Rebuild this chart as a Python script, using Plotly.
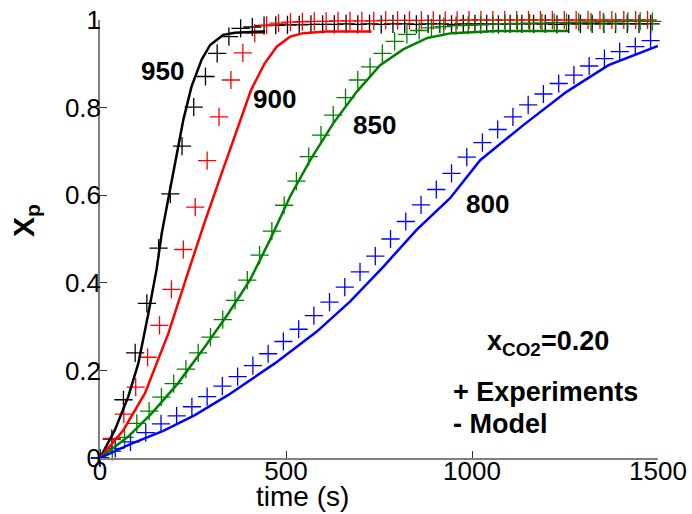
import plotly.graph_objects as go

# ---------------- data ----------------
# Experiments (markers)
t_exp_950 = [0, 31.5, 63, 94.5, 126, 157.5, 189, 220.5, 252, 283.5, 315, 346.5, 378, 409.5, 441,
             472.5, 504, 535.5, 567, 598.5, 630, 661.5, 693, 724.5, 756, 787.5, 819, 850.5, 882,
             913.5, 945, 976.5, 1008, 1039.5, 1071, 1102.5, 1134, 1165.5, 1197, 1228.5, 1260,
             1291.5, 1323, 1354.5, 1386, 1417.5, 1449, 1480.5]
x_exp_950 = [0, 0.043, 0.133, 0.240, 0.353, 0.479, 0.603, 0.712, 0.801, 0.871, 0.924, 0.962, 0.981,
             0.984, 0.987, 0.988, 0.989, 0.989, 0.990, 0.990, 0.990, 0.991, 0.990, 0.991, 0.990,
             0.991, 0.991, 0.990, 0.991, 0.991, 0.990, 0.991, 0.991, 0.991, 0.990, 0.991, 0.991,
             0.991, 0.991, 0.990, 0.991, 0.991, 0.991, 0.991, 0.991, 0.991, 0.991, 0.991]

t_exp_900 = [0, 32, 64, 96, 128, 160, 192, 224, 256, 288, 320, 352, 384, 416, 448, 480, 512, 544,
             576, 608, 640, 672, 704, 736, 768, 800, 832, 864, 896, 928, 960, 992, 1024, 1056,
             1088, 1120, 1152, 1184, 1216, 1248, 1280, 1312, 1344, 1376, 1408, 1440, 1472]
x_exp_900 = [0, 0.045, 0.100, 0.162, 0.230, 0.303, 0.385, 0.476, 0.573, 0.679, 0.779, 0.863, 0.925,
             0.970, 0.988, 0.993, 0.995, 0.996, 0.997, 0.997, 0.998, 0.998, 0.998, 0.998, 0.999,
             0.999, 0.999, 0.999, 0.999, 0.999, 0.999, 1.000, 1.000, 1.000, 1.000, 1.000, 1.000,
             1.000, 1.000, 1.000, 1.000, 1.000, 1.000, 1.000, 1.000, 1.000, 1.000]

t_exp_850 = [0, 33, 66, 99, 132, 165, 198, 231, 264, 297, 330, 363, 396, 429, 462, 495, 528, 561,
             594, 627, 660, 693, 726, 759, 792, 825, 858, 891, 924, 957, 990, 1023, 1056, 1089,
             1122, 1155, 1188, 1221, 1254, 1287, 1320, 1353, 1386, 1419, 1452, 1485]
x_exp_850 = [0, 0.015, 0.047, 0.079, 0.107, 0.139, 0.170, 0.203, 0.240, 0.276, 0.316, 0.360, 0.406,
             0.463, 0.518, 0.577, 0.632, 0.688, 0.737, 0.783, 0.823, 0.863, 0.893, 0.924, 0.951,
             0.967, 0.976, 0.982, 0.985, 0.987, 0.988, 0.989, 0.990, 0.991, 0.992, 0.993, 0.993,
             0.994, 0.994, 0.995, 0.995, 0.996, 0.996, 0.997, 0.997, 0.997]

t_exp_800 = [0, 41, 82, 123, 164, 206, 247, 288, 329, 370, 411, 452, 493, 534, 575, 617, 658, 699,
             740, 781, 822, 863, 904, 945, 986, 1028, 1069, 1110, 1151, 1192, 1233, 1274, 1315,
             1356, 1397, 1439, 1480]
x_exp_800 = [0, 0.022, 0.037, 0.058, 0.078, 0.096, 0.117, 0.140, 0.164, 0.186, 0.211, 0.238, 0.266,
             0.294, 0.325, 0.356, 0.390, 0.425, 0.461, 0.500, 0.540, 0.578, 0.613, 0.650, 0.687,
             0.720, 0.750, 0.779, 0.806, 0.831, 0.855, 0.874, 0.895, 0.912, 0.928, 0.939, 0.953]

# Model (lines)
t_mod_950 = [0, 40, 76, 103, 130, 152, 166, 197, 224, 246, 273, 296, 331, 363, 444]
x_mod_950 = [0, 0.064, 0.140, 0.216, 0.330, 0.430, 0.513, 0.654, 0.772, 0.848, 0.909, 0.943, 0.966,
             0.971, 0.974]

t_mod_900 = [0, 63, 121, 184, 233, 280, 327, 372, 406, 442, 475, 511, 547, 609, 730]
x_mod_900 = [0, 0.064, 0.148, 0.285, 0.414, 0.535, 0.650, 0.757, 0.840, 0.900, 0.939, 0.962, 0.970,
             0.974, 0.974]

t_mod_850 = [0, 76, 139, 210, 282, 345, 403, 457, 511, 565, 627, 690, 753, 815, 880, 945, 1066, 1258]
x_mod_850 = [0, 0.049, 0.102, 0.171, 0.254, 0.330, 0.406, 0.498, 0.597, 0.680, 0.764, 0.836, 0.897,
             0.933, 0.959, 0.970, 0.975, 0.975]

t_mod_800 = [0, 80, 170, 255, 345, 470, 582, 672, 762, 851, 941, 1022, 1138, 1254, 1367, 1434, 1500]
x_mod_800 = [0, 0.031, 0.062, 0.098, 0.144, 0.216, 0.288, 0.357, 0.437, 0.521, 0.593, 0.680, 0.760,
             0.836, 0.897, 0.920, 0.941]

temps = ["950", "900", "850", "800"]
colors = ["#000000", "#ff0000", "#008000", "#0000ff"]
label_t = [168, 468, 737, 1042]
label_x = [0.884, 0.820, 0.760, 0.580]

x_ticks = [0, 500, 1000, 1500]
y_ticks = [0, 0.2, 0.4, 0.6, 0.8, 1.0]
y_ticklabels = ["0", "0.2", "0.4", "0.6", "0.8", "1"]

exp_sets = [(t_exp_950, x_exp_950), (t_exp_900, x_exp_900), (t_exp_850, x_exp_850), (t_exp_800, x_exp_800)]
mod_sets = [(t_mod_950, x_mod_950), (t_mod_900, x_mod_900), (t_mod_850, x_mod_850), (t_mod_800, x_mod_800)]

FONT = "Liberation Sans, Arial, sans-serif"
W, H = 692, 514
L, R, T, B = 100, 34, 20, 56
PW, PH = W - L - R, H - T - B

fig = go.Figure()
for (t, xv), c in zip(exp_sets, colors):
    fig.add_trace(go.Scatter(x=t, y=xv, mode="markers", cliponaxis=False, showlegend=False,
                             marker=dict(symbol="cross-thin", size=13, color=c,
                                         line=dict(color=c, width=1.3))))
for (t, xv), c in zip(mod_sets, colors):
    fig.add_trace(go.Scatter(x=t, y=xv, mode="lines", cliponaxis=False, showlegend=False,
                             line=dict(color=c, width=2.5)))

for name, tx, ty in zip(temps, label_t, label_x):
    fig.add_annotation(x=tx, y=ty, xref="x", yref="y", text="<b>%s</b>" % name, showarrow=False,
                       xanchor="center", yanchor="middle",
                       font=dict(family=FONT, size=26, color="black"))

fig.add_annotation(x=1204, y=0.262, xref="x", yref="y", showarrow=False, xanchor="center", yanchor="middle",
                   text="<b>x<sub>CO2</sub>=0.20</b>", font=dict(family=FONT, size=27, color="black"))
fig.add_annotation(x=943, y=0.151, xref="x", yref="y", showarrow=False, xanchor="left", yanchor="middle",
                   text="<b>+ Experiments</b>", font=dict(family=FONT, size=27, color="black"))
fig.add_annotation(x=943, y=0.078, xref="x", yref="y", showarrow=False, xanchor="left", yanchor="middle",
                   text="<b>- Model</b>", font=dict(family=FONT, size=27, color="black"))

# axis titles (placed by pixel position, converted to paper coordinates)
fig.add_annotation(x=(302 - L) / PW, y=(H - B - 496) / PH, xref="paper", yref="paper",
                   xanchor="center", yanchor="middle", showarrow=False, text="time (s)",
                   font=dict(family=FONT, size=28, color="black"))
fig.add_annotation(x=(26 - L) / PW, y=(H - B - 221) / PH, xref="paper", yref="paper",
                   xanchor="center", yanchor="middle", showarrow=False, textangle=-90,
                   text="<b>X<sub>p</sub></b>", font=dict(family=FONT, size=30, color="black"))

fig.update_layout(
    width=W, height=H, margin=dict(l=L, r=R, t=T, b=B, autoexpand=False),
    paper_bgcolor="white", plot_bgcolor="white",
    font=dict(family=FONT, size=22, color="black"),
    xaxis=dict(range=[0, 1500], tickvals=x_ticks, ticks="inside", ticklen=7, tickcolor="#333",
               showline=True, linecolor="#808080", linewidth=1.5, mirror=False, showgrid=False,
               zeroline=False, automargin=False, tickfont=dict(family=FONT, size=26),
               ticklabelstandoff=-11),
    yaxis=dict(range=[0, 1], tickvals=y_ticks, ticktext=y_ticklabels, ticks="inside", ticklen=7,
               tickcolor="#333", showline=True, linecolor="#808080", linewidth=1.5, mirror=False,
               showgrid=False, zeroline=False, automargin=False, tickfont=dict(family=FONT, size=26),
               ticklabelstandoff=-8),
)

fig.write_html("out.html", config={"displayModeBar": False},
               post_script="document.body.style.margin='0';")
